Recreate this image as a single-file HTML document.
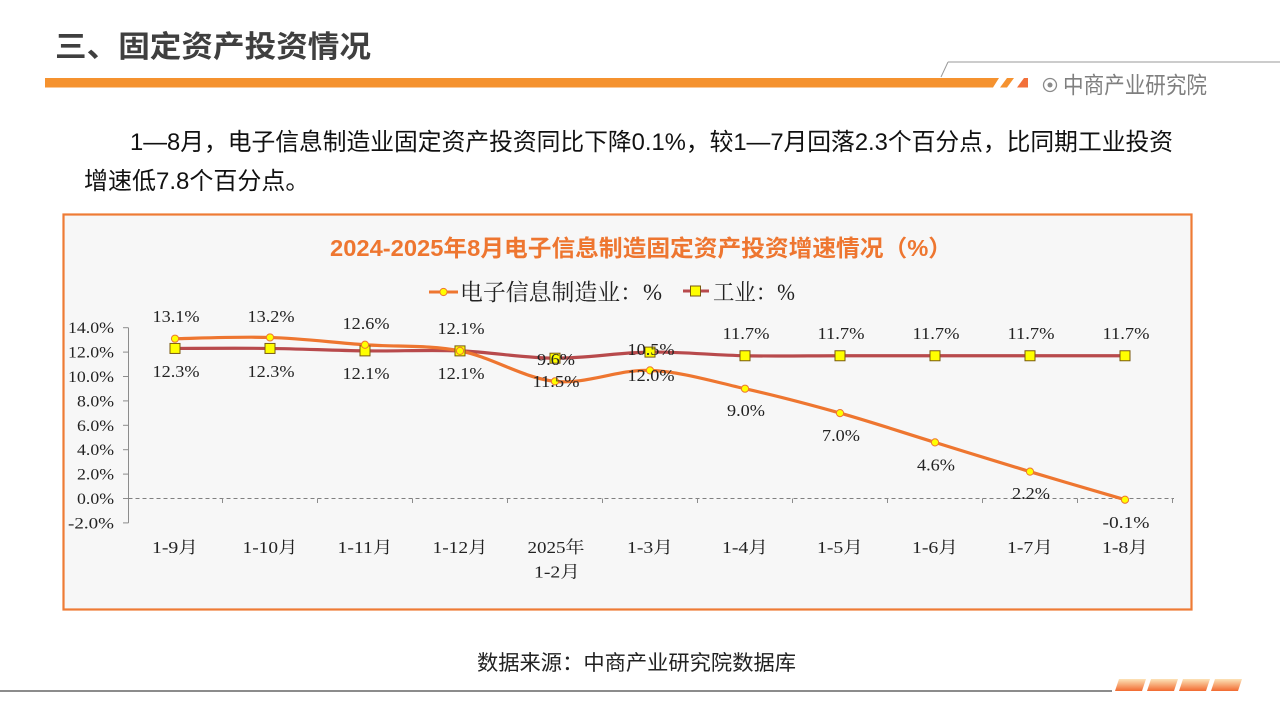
<!DOCTYPE html>
<html>
<head>
<meta charset="utf-8">
<style>
  html,body{margin:0;padding:0;background:#ffffff;}
  body{width:1280px;height:720px;overflow:hidden;}
  svg{display:block;}
  .sans{font-family:"Liberation Sans","Noto Sans CJK SC",sans-serif;}
  .serif{font-family:"Liberation Serif","Noto Serif CJK SC",serif;}
</style>
</head>
<body>
<svg width="1280" height="720" viewBox="0 0 1280 720" xmlns="http://www.w3.org/2000/svg">
  <defs>
    <linearGradient id="og" x1="0" y1="0" x2="0" y2="1">
      <stop offset="0" stop-color="#FCE3B8"/>
      <stop offset="1" stop-color="#F26A30"/>
    </linearGradient>
  </defs>

  <!-- Header -->
  <text class="sans" x="55" y="57" font-size="30" font-weight="bold" fill="#3F3F3F" textLength="316" lengthAdjust="spacingAndGlyphs">三、固定资产投资情况</text>
  <polygon points="45,78 999,78 993,87.5 45,87.5" fill="#F5922F"/>
  <polygon points="1000,87.5 1007,78 1014,78 1007,87.5" fill="#F5922F"/>
  <polygon points="1017,87.5 1024,78 1028,78 1028,87.5" fill="#F2703A"/>
  <line x1="948" y1="62" x2="1280" y2="62" stroke="#9A9A9A" stroke-width="1"/>
  <line x1="948" y1="62" x2="941" y2="77" stroke="#9A9A9A" stroke-width="1"/>
  <circle cx="1050" cy="85" r="6.5" fill="none" stroke="#8A8A8A" stroke-width="1.3"/>
  <circle cx="1050" cy="85" r="2.5" fill="#8A8A8A"/>
  <text class="sans" x="1063" y="93" font-size="23" fill="#7F7F7F" textLength="144" lengthAdjust="spacingAndGlyphs">中商产业研究院</text>

  <!-- Paragraph -->
  <text class="sans" x="130" y="150" font-size="24" fill="#111111" textLength="1043" lengthAdjust="spacingAndGlyphs">1—8月，电子信息制造业固定资产投资同比下降0.1%，较1—7月回落2.3个百分点，比同期工业投资</text>
  <text class="sans" x="84" y="189" font-size="24" fill="#111111">增速低7.8个百分点。</text>

  <!-- Chart box -->
  <rect x="63.5" y="214.5" width="1128" height="395" fill="#F7F7F7" stroke="#EE7B35" stroke-width="2.2"/>

  <!-- Chart title -->
  <text class="sans" x="330" y="256" font-size="23" font-weight="bold" fill="#EE7630" textLength="622" lengthAdjust="spacingAndGlyphs">2024-2025年8月电子信息制造固定资产投资增速情况（%）</text>

  <!-- Legend -->
  <line x1="429" y1="292" x2="458" y2="292" stroke="#EE7630" stroke-width="3"/>
  <circle cx="443.5" cy="292" r="3.6" fill="#FFFF00" stroke="#EE7630" stroke-width="1"/>
  <text class="serif" x="460" y="300" font-size="23" fill="#222222" textLength="202" lengthAdjust="spacingAndGlyphs">电子信息制造业：%</text>
  <line x1="683" y1="291" x2="709" y2="291" stroke="#B84A4C" stroke-width="3"/>
  <rect x="690.5" y="286" width="10" height="10" fill="#FFFF00" stroke="#7A5A10" stroke-width="1"/>
  <text class="serif" x="713" y="300" font-size="23" fill="#222222" textLength="82" lengthAdjust="spacingAndGlyphs">工业：%</text>

  <!-- Y axis -->
  <g stroke="#8C8C8C" stroke-width="1">
    <line x1="128.5" y1="327.7" x2="128.5" y2="522.9"/>
    <line x1="123" y1="327.7" x2="128.5" y2="327.7"/>
    <line x1="123" y1="352.1" x2="128.5" y2="352.1"/>
    <line x1="123" y1="376.5" x2="128.5" y2="376.5"/>
    <line x1="123" y1="400.9" x2="128.5" y2="400.9"/>
    <line x1="123" y1="425.3" x2="128.5" y2="425.3"/>
    <line x1="123" y1="449.7" x2="128.5" y2="449.7"/>
    <line x1="123" y1="474.1" x2="128.5" y2="474.1"/>
    <line x1="123" y1="498.5" x2="128.5" y2="498.5"/>
    <line x1="123" y1="522.9" x2="128.5" y2="522.9"/>
  </g>
  <g class="serif" font-size="16" fill="#222222" text-anchor="end">
    <text x="114" y="333.2" textLength="46" lengthAdjust="spacingAndGlyphs">14.0%</text>
    <text x="114" y="357.6" textLength="46" lengthAdjust="spacingAndGlyphs">12.0%</text>
    <text x="114" y="382.0" textLength="46" lengthAdjust="spacingAndGlyphs">10.0%</text>
    <text x="114" y="406.4" textLength="37" lengthAdjust="spacingAndGlyphs">8.0%</text>
    <text x="114" y="430.8" textLength="37" lengthAdjust="spacingAndGlyphs">6.0%</text>
    <text x="114" y="455.2" textLength="37" lengthAdjust="spacingAndGlyphs">4.0%</text>
    <text x="114" y="479.6" textLength="37" lengthAdjust="spacingAndGlyphs">2.0%</text>
    <text x="114" y="504.0" textLength="37" lengthAdjust="spacingAndGlyphs">0.0%</text>
    <text x="114" y="528.4" textLength="46" lengthAdjust="spacingAndGlyphs">-2.0%</text>
  </g>

  <!-- Zero dashed line with category ticks -->
  <line x1="128.5" y1="498.5" x2="1174" y2="498.5" stroke="#808080" stroke-width="1" stroke-dasharray="4,3"/>
  <g stroke="#8C8C8C" stroke-width="1">
    <line x1="222.5" y1="498.5" x2="222.5" y2="503"/>
    <line x1="317.5" y1="498.5" x2="317.5" y2="503"/>
    <line x1="412.5" y1="498.5" x2="412.5" y2="503"/>
    <line x1="507.5" y1="498.5" x2="507.5" y2="503"/>
    <line x1="602.5" y1="498.5" x2="602.5" y2="503"/>
    <line x1="697.5" y1="498.5" x2="697.5" y2="503"/>
    <line x1="792.5" y1="498.5" x2="792.5" y2="503"/>
    <line x1="887.5" y1="498.5" x2="887.5" y2="503"/>
    <line x1="982.5" y1="498.5" x2="982.5" y2="503"/>
    <line x1="1077.5" y1="498.5" x2="1077.5" y2="503"/>
    <line x1="1172.5" y1="498.5" x2="1172.5" y2="503"/>
  </g>

  <!-- X labels -->
  <g class="serif" font-size="17" fill="#222222" text-anchor="middle">
    <text x="175" y="553" textLength="46" lengthAdjust="spacingAndGlyphs">1-9月</text>
    <text x="270" y="553" textLength="55" lengthAdjust="spacingAndGlyphs">1-10月</text>
    <text x="365" y="553" textLength="55" lengthAdjust="spacingAndGlyphs">1-11月</text>
    <text x="460" y="553" textLength="55" lengthAdjust="spacingAndGlyphs">1-12月</text>
    <text x="556" y="553" textLength="57" lengthAdjust="spacingAndGlyphs">2025年</text>
    <text x="557" y="577.5" textLength="46" lengthAdjust="spacingAndGlyphs">1-2月</text>
    <text x="650" y="553" textLength="46" lengthAdjust="spacingAndGlyphs">1-3月</text>
    <text x="745" y="553" textLength="46" lengthAdjust="spacingAndGlyphs">1-4月</text>
    <text x="840" y="553" textLength="46" lengthAdjust="spacingAndGlyphs">1-5月</text>
    <text x="935" y="553" textLength="46" lengthAdjust="spacingAndGlyphs">1-6月</text>
    <text x="1030" y="553" textLength="46" lengthAdjust="spacingAndGlyphs">1-7月</text>
    <text x="1125" y="553" textLength="46" lengthAdjust="spacingAndGlyphs">1-8月</text>
  </g>

  <!-- Industry series line -->
  <path d="M175,348.44 C190.83,348.44 238.33,348.03 270,348.44 C301.67,348.85 333.33,350.47 365,350.88 C396.67,351.29 428.33,349.66 460,350.88 C491.67,352.10 523.33,358.00 555,358.20 C586.67,358.40 618.33,352.51 650,352.10 C681.67,351.69 713.33,355.15 745,355.76 C776.67,356.37 808.33,355.76 840,355.76 L1125,355.76" fill="none" stroke="#B84A4C" stroke-width="3.2" stroke-linejoin="round"/>

  <!-- Electronic series line -->
  <path d="M175,338.68 C190.83,338.48 238.33,336.44 270,337.46 C301.67,338.48 333.33,342.54 365,344.78 C396.67,347.02 428.33,344.78 460,350.88 C491.67,356.98 523.33,378.13 555,381.38 C586.67,384.63 618.33,369.18 650,370.40 C681.67,371.62 713.33,381.58 745,388.70 C776.67,395.82 808.33,404.15 840,413.10 C871.67,422.05 903.33,432.62 935,442.38 C966.67,452.14 998.33,462.10 1030,471.66 C1061.67,481.22 1109.17,495.04 1125,499.72" fill="none" stroke="#EE7630" stroke-width="3.2" stroke-linejoin="round"/>

  <!-- Industry markers -->
  <g fill="#FFFF00" stroke="#7A5A10" stroke-width="1">
    <rect x="170" y="343.44" width="10" height="10"/>
    <rect x="265" y="343.44" width="10" height="10"/>
    <rect x="360" y="345.88" width="10" height="10"/>
    <rect x="455" y="345.88" width="10" height="10"/>
    <rect x="550" y="353.20" width="10" height="10"/>
    <rect x="645" y="347.10" width="10" height="10"/>
    <rect x="740" y="350.76" width="10" height="10"/>
    <rect x="835" y="350.76" width="10" height="10"/>
    <rect x="930" y="350.76" width="10" height="10"/>
    <rect x="1025" y="350.76" width="10" height="10"/>
    <rect x="1120" y="350.76" width="10" height="10"/>
  </g>

  <!-- Electronic markers -->
  <g fill="#FFFF00" stroke="#EE7630" stroke-width="1">
    <circle cx="175" cy="338.68" r="3.6"/>
    <circle cx="270" cy="337.46" r="3.6"/>
    <circle cx="365" cy="344.78" r="3.6"/>
    <circle cx="460" cy="350.88" r="3.6"/>
    <circle cx="555" cy="381.38" r="3.6"/>
    <circle cx="650" cy="370.40" r="3.6"/>
    <circle cx="745" cy="388.70" r="3.6"/>
    <circle cx="840" cy="413.10" r="3.6"/>
    <circle cx="935" cy="442.38" r="3.6"/>
    <circle cx="1030" cy="471.66" r="3.6"/>
    <circle cx="1125" cy="499.72" r="3.6"/>
  </g>

  <!-- Data labels -->
  <g class="serif" font-size="17" fill="#222222" text-anchor="middle">
    <!-- electronic -->
    <text x="176" y="322" textLength="47" lengthAdjust="spacingAndGlyphs">13.1%</text>
    <text x="271" y="322" textLength="47" lengthAdjust="spacingAndGlyphs">13.2%</text>
    <text x="366" y="329" textLength="47" lengthAdjust="spacingAndGlyphs">12.6%</text>
    <text x="461" y="334" textLength="47" lengthAdjust="spacingAndGlyphs">12.1%</text>
    <text x="556" y="365" textLength="38" lengthAdjust="spacingAndGlyphs">9.6%</text>
    <text x="651" y="355" textLength="47" lengthAdjust="spacingAndGlyphs">10.5%</text>
    <text x="746" y="416" textLength="38" lengthAdjust="spacingAndGlyphs">9.0%</text>
    <text x="841" y="441" textLength="38" lengthAdjust="spacingAndGlyphs">7.0%</text>
    <text x="936" y="470.5" textLength="38" lengthAdjust="spacingAndGlyphs">4.6%</text>
    <text x="1031" y="499" textLength="38" lengthAdjust="spacingAndGlyphs">2.2%</text>
    <text x="1126" y="528" textLength="47" lengthAdjust="spacingAndGlyphs">-0.1%</text>
    <!-- industry -->
    <text x="176" y="377" textLength="47" lengthAdjust="spacingAndGlyphs">12.3%</text>
    <text x="271" y="377" textLength="47" lengthAdjust="spacingAndGlyphs">12.3%</text>
    <text x="366" y="379" textLength="47" lengthAdjust="spacingAndGlyphs">12.1%</text>
    <text x="461" y="379" textLength="47" lengthAdjust="spacingAndGlyphs">12.1%</text>
    <text x="556" y="387" textLength="47" lengthAdjust="spacingAndGlyphs">11.5%</text>
    <text x="651" y="381" textLength="47" lengthAdjust="spacingAndGlyphs">12.0%</text>
    <text x="746" y="339" textLength="47" lengthAdjust="spacingAndGlyphs">11.7%</text>
    <text x="841" y="339" textLength="47" lengthAdjust="spacingAndGlyphs">11.7%</text>
    <text x="936" y="339" textLength="47" lengthAdjust="spacingAndGlyphs">11.7%</text>
    <text x="1031" y="339" textLength="47" lengthAdjust="spacingAndGlyphs">11.7%</text>
    <text x="1126" y="339" textLength="47" lengthAdjust="spacingAndGlyphs">11.7%</text>
  </g>

  <!-- Source -->
  <text class="sans" x="477" y="670" font-size="21" fill="#222222" textLength="319" lengthAdjust="spacingAndGlyphs">数据来源：中商产业研究院数据库</text>

  <!-- Footer -->
  <line x1="0" y1="691" x2="1112" y2="691" stroke="#8C8C8C" stroke-width="2"/>
  <g fill="url(#og)">
    <polygon points="1119,679 1146,679 1142,691 1115,691"/>
    <polygon points="1151,679 1178,679 1174,691 1147,691"/>
    <polygon points="1183,679 1210,679 1206,691 1179,691"/>
    <polygon points="1215,679 1242,679 1238,691 1211,691"/>
  </g>
</svg>
</body>
</html>
